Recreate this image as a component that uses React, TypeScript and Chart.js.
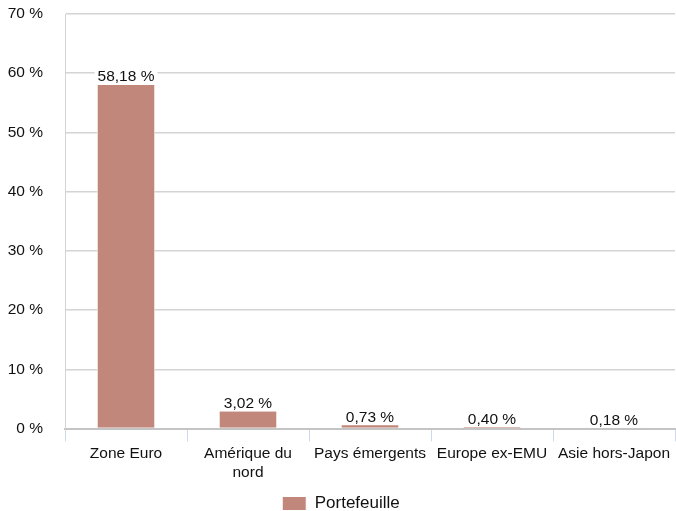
import React, { useEffect, useRef } from "react";
import { Chart, registerables } from "chart.js";

Chart.register(...registerables);

const categories: (string | string[])[] = [
  "Zone Euro",
  ["Amérique du", "nord"],
  "Pays émergents",
  "Europe ex-EMU",
  "Asie hors-Japon",
];
const portefeuille = [58.18, 3.02, 0.73, 0.4, 0.18];
const seriesName = "Portefeuille";
const yTicks = [0, 10, 20, 30, 40, 50, 60, 70];

const FONT = "'Liberation Sans', Arial, Helvetica, sans-serif";
const BAR_COLOR = "#c0877a";

const fmt = (v: number) => v.toFixed(2).replace(".", ",") + " %";

const valueLabels = {
  id: "valueLabels",
  afterDatasetsDraw(chart: any) {
    const ctx = chart.ctx;
    const meta = chart.getDatasetMeta(0);
    ctx.save();
    ctx.font = `15.5px ${FONT}`;
    ctx.textAlign = "center";
    ctx.textBaseline = "alphabetic";
    meta.data.forEach((bar: any, i: number) => {
      const txt = fmt(portefeuille[i]);
      const w = ctx.measureText(txt).width;
      const baseY = bar.y - 2.5;
      ctx.fillStyle = "#ffffff";
      ctx.fillRect(bar.x - w / 2 - 3, baseY - 13, w + 6, 16);
      ctx.fillStyle = "#111111";
      ctx.fillText(txt, bar.x, baseY);
    });
    ctx.restore();
  },
};

export default function App() {
  const ref = useRef<HTMLCanvasElement | null>(null);
  useEffect(() => {
    document.body.style.margin = "0";
    const canvas = ref.current!;
    const chart = new Chart(canvas, {
      type: "bar",
      data: {
        labels: categories as any,
        datasets: [
          {
            label: seriesName,
            data: portefeuille,
            backgroundColor: BAR_COLOR,
            borderColor: "#ffffff",
            borderWidth: 1,
            categoryPercentage: 1,
            barPercentage: 0.48,
          },
        ],
      },
      options: {
        responsive: false,
        animation: false,
        layout: { padding: { left: 7, right: 1, top: 14, bottom: -11 } },
        plugins: {
          tooltip: { enabled: false },
          legend: {
            position: "bottom",
            labels: {
              boxWidth: 24,
              boxHeight: 14,
              padding: 0,
              color: "#111111",
              font: { size: 17, family: FONT },
            },
          },
        },
        scales: {
          x: {
            offset: true,
            afterFit: (s: any) => {
              s.paddingLeft = 0;
              s.paddingRight = 0;
              s.height = 66.5;
            },
            border: { display: true, color: "#c4c4c4", width: 2 },
            grid: {
              display: true,
              offset: true,
              drawOnChartArea: false,
              drawTicks: true,
              tickLength: 13,
              color: "#cdd8ea",
              lineWidth: 1,
            },
            ticks: {
              color: "#111111",
              padding: 3,
              maxRotation: 0,
              autoSkip: false,
              font: { size: 15.5, family: FONT, lineHeight: 1.2 },
            },
          },
          y: {
            min: 0,
            max: 70,
            afterBuildTicks: (scale: any) => {
              scale.ticks = yTicks.map((v) => ({ value: v }));
            },
            afterFit: (s: any) => {
              s.paddingTop = 0;
              s.paddingBottom = 0;
              s.width = 58;
            },
            border: { display: true, color: "#d4d4d4", width: 1 },
            grid: {
              color: "#d4d4d4",
              lineWidth: 1.5,
              drawTicks: false,
            },
            ticks: {
              color: "#111111",
              padding: 22,
              font: { size: 15.5, family: FONT },
              callback: (v: any) => `${v} %`,
            },
          },
        },
      },
      plugins: [valueLabels],
    });
    return () => chart.destroy();
  }, []);
  return (
    <div style={{ width: 676, height: 511 }}>
      <canvas ref={ref} width={676} height={511} style={{ display: "block" }} />
    </div>
  );
}
